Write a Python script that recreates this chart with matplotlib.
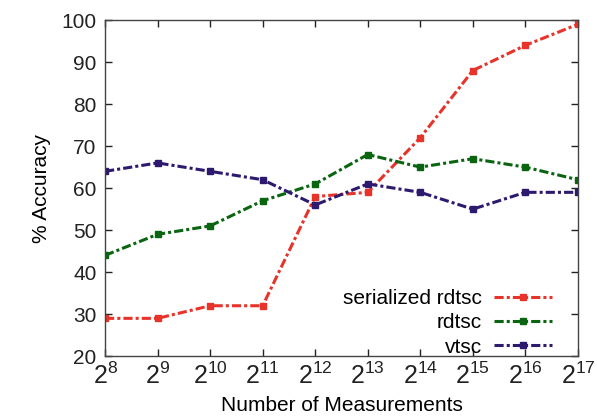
import matplotlib
matplotlib.use('Agg')
import matplotlib.pyplot as plt

# Data
exponents = [8, 9, 10, 11, 12, 13, 14, 15, 16, 17]
serialized_rdtsc = [29, 29, 32, 32, 58, 59, 72, 88, 94, 99]
rdtsc = [44, 49, 51, 57, 61, 68, 65, 67, 65, 62]
vtsc = [64, 66, 64, 62, 56, 61, 59, 55, 59, 59]

plt.rcParams['font.family'] = ['Liberation Sans', 'DejaVu Sans']
plt.rcParams['mathtext.fontset'] = 'custom'
plt.rcParams['mathtext.rm'] = 'Liberation Sans'
plt.rcParams['mathtext.it'] = 'Liberation Sans'

fig = plt.figure(figsize=(5.97, 4.19), dpi=100)
ax = fig.add_axes([0.176, 0.150, 0.792, 0.802])

dash = (0, (3, 1, 1, 1))
series = [
    ('serialized rdtsc', serialized_rdtsc, '#e8332b'),
    ('rdtsc', rdtsc, '#0a6410'),
    ('vtsc', vtsc, '#2d1a6e'),
]
for label, vals, color in series:
    ax.plot(exponents, vals, linestyle=dash, color=color, linewidth=2.2,
            marker='s', markersize=5, label=label)

ax.set_xlim(8, 17)
ax.set_ylim(20, 100)
ax.set_xticks(exponents)
ax.set_xticklabels([f'$\\mathregular{{2^{{{e}}}}}$' for e in exponents])
ax.set_yticks(range(20, 101, 10))

ax.tick_params(direction='in', top=True, right=True, length=5, width=1,
               labelsize=15, colors='#222222', pad=6)
ax.tick_params(axis='x', labelsize=18, pad=5)
for s in ax.spines.values():
    s.set_color('#444444')
    s.set_linewidth(1)

ax.set_xlabel('Number of Measurements', fontsize=15, labelpad=5)
ax.set_ylabel('% Accuracy', fontsize=15, labelpad=8)

ax.legend(loc='lower right', frameon=False, markerfirst=False, fontsize=15,
          handlelength=2.8, handletextpad=0.6, labelspacing=0.25,
          borderaxespad=0.3, bbox_to_anchor=(0.977, -0.045))

fig.savefig('out.png', dpi=100)
